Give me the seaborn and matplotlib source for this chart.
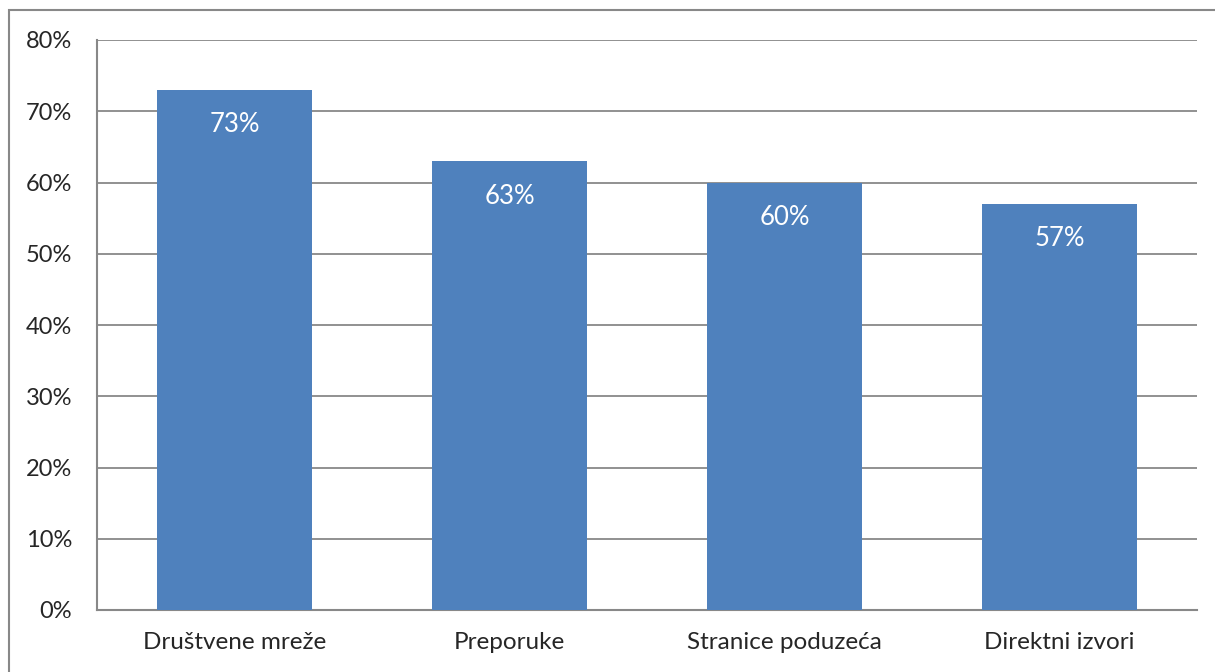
import matplotlib
matplotlib.use("Agg")
import matplotlib.pyplot as plt
import seaborn as sns
import pandas as pd
from matplotlib.patches import Rectangle

categories = ["Društvene mreže", "Preporuke", "Stranice poduzeća", "Direktni izvori"]
values = [73, 63, 60, 57]
yticks = [0, 10, 20, 30, 40, 50, 60, 70, 80]
ytick_labels = [f"{v}%" for v in yticks]

df = pd.DataFrame({"cat": categories, "val": values})

sns.set_style("white")
plt.rcParams["font.family"] = ["Lato", "DejaVu Sans"]

fig = plt.figure(figsize=(12.15, 6.72), dpi=100)
ax = fig.add_axes([97/1215, 1-610/672, 1100/1215, 570/672])

sns.barplot(data=df, x="cat", y="val", color="#4F81BD", saturation=1,
            width=0.567, ax=ax, zorder=3, linewidth=0)

ax.set_ylim(0, 80)
ax.set_yticks(yticks)
ax.set_yticklabels(ytick_labels, fontsize=17)
ax.tick_params(axis="x", labelsize=17.5, length=0, pad=16)
ax.tick_params(axis="y", length=0, pad=18)
ax.set_xlabel("")
ax.set_ylabel("")
ax.yaxis.grid(True, color="#888888", linewidth=1.3, zorder=0)
ax.set_axisbelow(True)
for s in ["top", "right"]:
    ax.spines[s].set_visible(False)
for s in ["left", "bottom"]:
    ax.spines[s].set_color("#888888")
    ax.spines[s].set_linewidth(1.5)

for p, v in zip(ax.patches, values):
    ax.annotate(f"{v}%", (p.get_x() + p.get_width()/2, p.get_height()),
                xytext=(0, -35), textcoords="offset pixels",
                ha="center", va="center", color="white", fontsize=18.5, zorder=5)

fig.patches.append(Rectangle((9/1215, -0.1), 1.2, 1 - 10/672 + 0.1,
                             transform=fig.transFigure, fill=False,
                             edgecolor="#888888", linewidth=1.5))

fig.savefig("out.png", dpi=100)
